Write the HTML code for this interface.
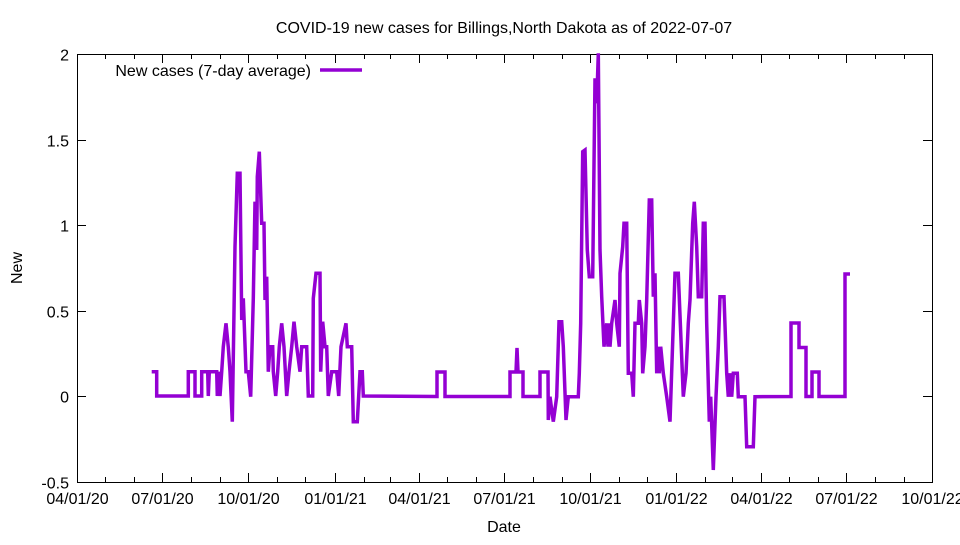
<!DOCTYPE html>
<html><head><meta charset="utf-8"><style>
html,body{margin:0;padding:0;background:#fff}
svg text{font-family:"Liberation Sans",Arial,sans-serif;font-size:16px;fill:#000}
</style></head><body>
<svg id="s" width="960" height="540" viewBox="0 0 960 540" xmlns="http://www.w3.org/2000/svg">
<rect width="960" height="540" fill="#fff"/>
<text x="504" y="33" text-anchor="middle">COVID-19 new cases for Billings,North Dakota as of 2022-07-07</text>
<text x="504" y="532" text-anchor="middle">Date</text>
<text transform="translate(22,268) rotate(-90)" text-anchor="middle">New</text>
<g id="ticks" stroke="#000" stroke-width="1"></g>
<g id="labels"></g>
<rect x="77.5" y="54.5" width="855" height="428" fill="none" stroke="#000" stroke-width="1"/>
<text x="311" y="76" text-anchor="end">New cases (7-day average)</text>
<line x1="320" y1="70" x2="362" y2="70" stroke="#9400d3" stroke-width="3.5"/>
<polyline id="p" fill="none" stroke="#9400d3" stroke-width="3.5" stroke-linejoin="miter"/>
</svg>
<script>
var NS="http://www.w3.org/2000/svg";
var t=document.getElementById('ticks'),L=document.getElementById('labels');
function ln(x1,y1,x2,y2){var e=document.createElementNS(NS,'line');e.setAttribute('x1',x1);e.setAttribute('y1',y1);e.setAttribute('x2',x2);e.setAttribute('y2',y2);t.appendChild(e);}
function tx(x,y,s,a){var e=document.createElementNS(NS,'text');e.setAttribute('x',x);e.setAttribute('y',y);e.setAttribute('text-anchor',a);e.textContent=s;L.appendChild(e);}
var y0=396.4,k=171.2;
[-0.5,0,0.5,1,1.5,2].forEach(function(v){var y=Math.round(y0-v*k)+0.5;ln(77,y,86,y);ln(932,y,923,y);tx(69,y+6,String(v),'end');});
var base=Date.UTC(2020,3,1),end=Date.UTC(2022,9,1),sc=855/((end-base)/864e5);
for(var m=0;m<=30;m++){var d=Date.UTC(2020,3+m,1);var x=Math.round(77+(d-base)/864e5*sc)+0.5;var major=m%3==0;var len=major?9:5;
ln(x,482,x,482-len);ln(x,54,x,54+len);
if(major){var dt=new Date(d);var s=('0'+(dt.getUTCMonth()+1)).slice(-2)+'/01/'+String(dt.getUTCFullYear()).slice(2);tx(x,504,s,'middle');}}
var a=[[35,695],[50,695],[50,768],[145,768],[145,695],[165,695],[165,768],[185,768],[185,695],[203,695],[205,768],[208,695],[230,695],[232,768],[236,695],[240,768],[245,695],[250,620],[258,550],[265,622],[270,695],[277,845],[285,320],[292,100],[300,100],[305,540],[310,475],[318,695],[325,695],[332,770],[340,475],[345,185],[350,330],[352,110],[358,35],[365,250],[372,250],[375,480],[380,410],[385,695],[390,620],[398,620],[400,695],[407,768],[413,695],[418,620],[425,550],[432,620],[440,768],[447,695],[455,620],[462,545],[470,620],[480,695],[485,620],[500,620],[505,768],[518,768],[520,475],[528,400],[540,400],[542,695],[548,545],[555,620],[560,620],[565,768],[575,695],[590,695],[596,768],[603,620],[618,550],[622,620],[635,620],[640,845],[652,845],[660,695],[667,695],[670,768]];
var pts=a.map(function(p){return [140+p[0]/3,140+p[1]/3];});
pts.push([437,396.5],[437,372],[445,372],[445,396.5],[510,396.5],[510,372],[516,372],[517,348],[518,372],[523,372],[523,396.5],[540,396.5],[540,372],[548,372]);
var b=[[145,1140],[150,1070],[160,1145],[170,1070],[177,845],[185,845],[190,920],[198,1140],[205,1070],[235,1070],[238,1000],[242,850],[248,335],[255,330],[262,630],[268,710],[278,710],[285,115],[290,190],[295,40],[300,630],[305,770],[312,920],[320,850],[324,920],[328,850],[330,920],[335,850],[345,780],[350,850],[358,920],[360,700],[368,620],[372,550],[380,550],[385,1000],[395,1000],[400,1070],[405,850],[415,850],[418,780],[425,850],[428,1000],[435,920],[440,780],[448,480],[455,480],[460,770],[465,700],[470,1000],[474,920],[478,1000],[482,920],[490,1000],[500,1070],[510,1145],[525,700],[535,700],[550,1070],[558,1000],[565,850],[570,780],[578,550],[583,485],[590,620],[595,770],[605,770],[610,550],[615,550],[620,850],[628,1145],[632,1070],[640,1290],[648,1070],[655,920],[660,770],[672,770],[680,1000],[685,1070],[690,1000],[695,1070],[700,1000],[712,1000],[715,1070],[735,1070],[740,1220],[760,1220],[765,1070]];
b.forEach(function(p){pts.push([500+p[0]/3,40+p[1]/3]);});
pts.push([791,396.5],[791,323],[799,323],[799,347.5],[806,347.5],[806,396.5],[812,396.5],[812,372],[819,372],[819,396.5],[845,396.5],[845,274],[850,274]);
document.getElementById('p').setAttribute('points',pts.map(function(p){return p[0].toFixed(1)+','+p[1].toFixed(1);}).join(' '));
</script>
</body></html>
